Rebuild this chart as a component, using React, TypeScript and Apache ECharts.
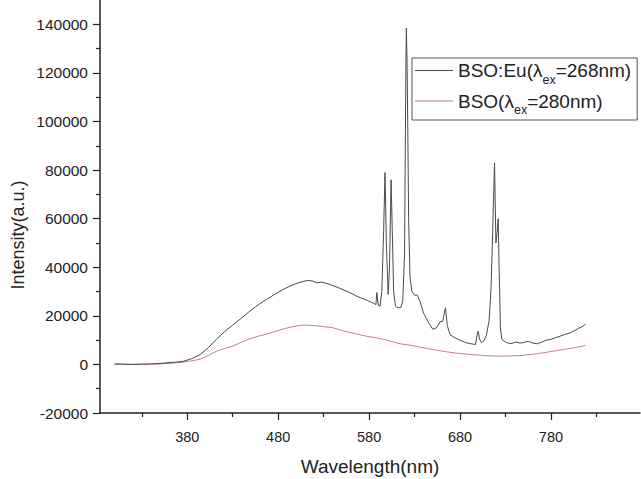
import React, { useEffect, useRef } from 'react';
import * as echarts from 'echarts';

// ---- Data ----
const seriesNames = ['BSO:Eu', 'BSO'];
const excitationLabels = ['268nm', '280nm'];
const seriesColors = ['#4a4a4a', '#c97f7f'];

const euWavelength = [
  300, 310, 320, 330, 340, 350, 358, 366, 375, 385, 394, 403, 412, 421, 430, 440, 449, 458, 467, 476,
  485, 494, 504, 513, 518, 522, 528, 537, 548, 559, 568, 577, 583, 586, 587.5, 588.5, 590, 592, 594, 596,
  597.5, 599, 601, 602.5, 604.2, 605.5, 607, 609, 612, 615, 617, 619, 620.5, 621, 621.8, 622.5, 623.5, 625, 627, 630,
  633, 636, 640, 645, 650, 654, 658, 661, 664, 666, 669, 674, 680, 686, 692, 697, 699, 700, 701.5, 703.5,
  706, 709, 712, 714, 716, 718, 719.5, 721, 722, 723, 724.5, 726, 731, 736, 741, 746, 750, 755, 760, 765,
  770, 775, 780, 785, 790, 795, 800, 805, 810, 814, 818,
];
const euIntensity = [
  200, 100, 0, 100, 200, 400, 700, 900, 1200, 2400, 4000, 6800, 10300, 13500, 16200, 19200, 22000, 24500, 26700, 28800,
  30800, 32400, 33800, 34600, 34300, 33600, 33900, 32900, 31300, 29500, 27800, 26500, 25500, 25000, 24600, 29600, 24400, 24000, 30000, 55000,
  79000, 50000, 28800, 40000, 76000, 55000, 30000, 24000, 23300, 23500, 26000, 45000, 124000, 138500, 124000, 100000, 60000, 36000, 30000, 28500,
  28500, 26000, 21000, 17500, 14500, 15000, 17500, 17800, 23300, 16000, 12300, 11000, 10000, 9000, 8500, 8200, 12500, 13700, 10500, 9000,
  9500, 12000, 18000, 30000, 55000, 83000, 50000, 55000, 60000, 40000, 15000, 10300, 9000, 8500, 9200, 8800, 9000, 9500, 8800, 8500,
  9200, 10000, 10300, 11000, 11600, 12300, 12800, 13700, 14800, 15500, 16500,
];

const bsoWavelength = [
  300, 320, 340, 355, 365, 375, 385, 394, 403, 412, 421, 430, 440, 449, 458, 467, 476, 485, 494, 506,
  515, 525, 540, 550, 560, 570, 577, 587, 596, 605, 614, 625, 635, 645, 655, 665, 675, 685, 695, 705,
  715, 725, 735, 745, 755, 765, 775, 785, 795, 805, 812, 818,
];
const bsoIntensity = [
  100, 0, 100, 300, 600, 900, 1500, 2100, 3600, 5400, 6600, 7500, 9200, 10600, 11600, 12400, 13500, 14500, 15400, 16200,
  16100, 15800, 15100, 14000, 13000, 12200, 11600, 11000, 10300, 9400, 8500, 7900, 7200, 6500, 5800, 5200, 4700, 4300, 4000, 3700,
  3500, 3400, 3500, 3600, 4000, 4400, 5000, 5600, 6200, 6800, 7300, 7800,
];

const xMajorTicks = [380, 480, 580, 680, 780];
const xMinorTicks = [330, 430, 530, 630, 730, 830];
const yMajorTicks = [-20000, 0, 20000, 40000, 60000, 80000, 100000, 120000, 140000];
const yMinorTicks = [-10000, 10000, 30000, 50000, 70000, 90000, 110000, 130000];

const xTitle = 'Wavelength(nm)';
const yTitle = 'Intensity(a.u.)';

const FONT = '"Liberation Sans", Arial, sans-serif';
const INK = '#222';

export default function App() {
  const ref = useRef<HTMLDivElement | null>(null);

  useEffect(() => {
    if (!ref.current) return;
    const chart = echarts.init(ref.current, undefined, { renderer: 'svg' });

    const zip = (xs: number[], ys: number[]) => xs.map((x, i) => [x, ys[i]]);
    const xRange = { min: 284, max: 878 };
    const yRange = { min: -20000, max: 150000 };

    const option: any = {
      animation: false,
      backgroundColor: '#fff',
      textStyle: { fontFamily: FONT, color: INK },
      grid: { left: 100, top: 0, width: 540, height: 413, containLabel: false, outerBoundsMode: 'none' },
      legend: {
        orient: 'vertical',
        left: 412,
        top: 58,
        padding: [3, 6, 3, 3],
        itemGap: 5,
        itemWidth: 38,
        itemHeight: 1.2,
        icon: 'rect',
        borderColor: '#555',
        borderWidth: 1,
        backgroundColor: '#fff',
        data: seriesNames,
        formatter: (name: string) => {
          const i = seriesNames.indexOf(name);
          return `{n|${name}(λ}{s|ex}{n|=${excitationLabels[i]})}`;
        },
        textStyle: {
          fontFamily: FONT,
          color: INK,
          rich: {
            n: { fontSize: 19, fontFamily: FONT, color: INK, verticalAlign: 'middle' },
            s: { fontSize: 12.5, fontFamily: FONT, color: INK, padding: [19, 0, 0, 0], verticalAlign: 'middle' },
          },
        },
      },
      xAxis: [
        {
          type: 'value',
          ...xRange,
          position: 'bottom',
          axisLine: { show: true, onZero: false, lineStyle: { color: INK, width: 1.5 } },
          axisTick: { show: true, customValues: xMajorTicks, length: 7, lineStyle: { color: INK, width: 1.2 } },
          axisLabel: { customValues: xMajorTicks, fontSize: 14.5, color: INK, margin: 16, fontFamily: FONT, formatter: (v: number) => String(v) },
          splitLine: { show: false },
          name: xTitle,
          nameLocation: 'middle',
          nameGap: 44,
          nameTextStyle: { fontSize: 19, color: INK, fontFamily: FONT },
        },
        {
          type: 'value',
          ...xRange,
          position: 'bottom',
          axisLine: { show: false, onZero: false },
          axisTick: { show: true, customValues: xMinorTicks, length: 4, lineStyle: { color: INK, width: 1.2 } },
          axisLabel: { show: false },
          splitLine: { show: false },
        },
      ],
      yAxis: [
        {
          type: 'value',
          ...yRange,
          position: 'left',
          axisLine: { show: true, onZero: false, lineStyle: { color: INK, width: 1.5 } },
          axisTick: { show: true, customValues: yMajorTicks, length: 7, lineStyle: { color: INK, width: 1.2 } },
          axisLabel: { customValues: yMajorTicks, fontSize: 15.5, color: INK, margin: 12, fontFamily: FONT, formatter: (v: number) => String(v) },
          splitLine: { show: false },
        },
        {
          type: 'value',
          ...yRange,
          position: 'left',
          axisLine: { show: false, onZero: false },
          axisTick: { show: true, customValues: yMinorTicks, length: 4, lineStyle: { color: INK, width: 1.2 } },
          axisLabel: { show: false },
          splitLine: { show: false },
        },
      ],
      graphic: [
        {
          type: 'text',
          x: 17.5,
          y: 235,
          rotation: Math.PI / 2,
          style: {
            text: yTitle,
            fontSize: 18,
            fontFamily: FONT,
            fill: INK,
            align: 'center',
            verticalAlign: 'middle',
          },
        },
      ],
      series: [
        {
          name: seriesNames[0],
          type: 'line',
          xAxisIndex: 0,
          yAxisIndex: 0,
          symbol: 'none',
          data: zip(euWavelength, euIntensity),
          lineStyle: { color: seriesColors[0], width: 1 },
          itemStyle: { color: seriesColors[0] },
          z: 3,
        },
        {
          name: seriesNames[1],
          type: 'line',
          xAxisIndex: 0,
          yAxisIndex: 0,
          symbol: 'none',
          data: zip(bsoWavelength, bsoIntensity),
          lineStyle: { color: seriesColors[1], width: 1 },
          itemStyle: { color: seriesColors[1] },
          z: 2,
        },
      ],
    };

    chart.setOption(option);
    return () => chart.dispose();
  }, []);

  return (
    <div
      ref={ref}
      style={{ position: 'absolute', left: 0, top: 0, width: 641, height: 479, background: '#fff' }}
    />
  );
}
